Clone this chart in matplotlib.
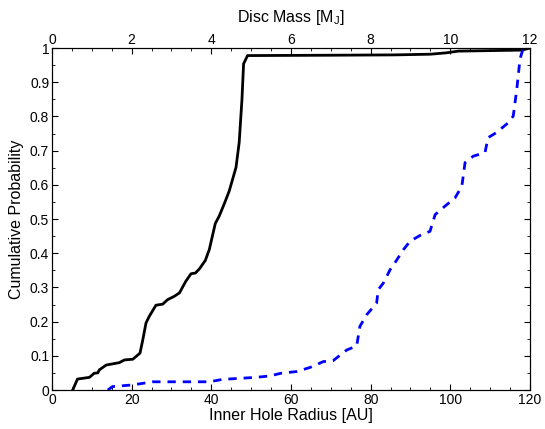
import numpy as np
import matplotlib
matplotlib.use('Agg')
import matplotlib.pyplot as plt
from matplotlib.ticker import MultipleLocator

matplotlib.rcParams.update({'font.family': ['Liberation Sans', 'DejaVu Sans'],
                            'font.size': 10})

# inner hole radius CDF (AU)
radius = [5.2, 6.4, 9.4, 10.6, 11.5, 11.9, 13.6, 16.9, 18.2, 20.3, 22.1, 22.8,
          23.6, 24.4, 26.1, 27.8, 29.0, 30.7, 32.0, 33.6, 34.9, 36.0, 37.0,
          38.5, 39.5, 41.0, 42.0, 43.3, 44.5, 46.2, 47.0, 47.7, 48.1, 49.1,
          70.0, 86.0, 95.0, 99.0, 102.0, 118.0, 120.0]
radius_cdf = [0.0, 0.032, 0.037, 0.049, 0.05, 0.059, 0.073, 0.08, 0.088, 0.09,
              0.108, 0.147, 0.196, 0.215, 0.248, 0.251, 0.264, 0.274, 0.284,
              0.318, 0.34, 0.342, 0.354, 0.379, 0.411, 0.487, 0.509, 0.546,
              0.582, 0.651, 0.724, 0.851, 0.954, 0.978,
              0.979, 0.98, 0.982, 0.986, 0.991, 0.994, 1.0]

# disc mass CDF (M_J)
mass = [1.40, 1.52, 2.03, 2.53, 3.03, 3.95, 4.28, 4.70, 5.12, 5.46, 5.75,
        6.14, 6.48, 6.81, 7.06, 7.40, 7.65, 7.73, 7.90, 8.15, 8.19, 8.32,
        8.49, 8.61, 8.82, 8.99, 9.24, 9.49, 9.62, 9.87, 10.12, 10.29, 10.37,
        10.58, 10.87, 10.95, 11.16, 11.46, 11.58, 11.67, 11.75, 11.82]
mass_cdf = [0.0, 0.01, 0.015, 0.024, 0.024, 0.024, 0.031, 0.034, 0.037, 0.041,
            0.049, 0.054, 0.066, 0.083, 0.086, 0.117, 0.129, 0.186, 0.22,
            0.254, 0.293, 0.313, 0.352, 0.372, 0.41, 0.435, 0.452, 0.464,
            0.513, 0.538, 0.562, 0.596, 0.665, 0.684, 0.694, 0.738, 0.753,
            0.782, 0.801, 0.88, 0.968, 0.995]

fig = plt.figure(figsize=(5.45, 4.29), dpi=100)
ax = fig.add_axes([0.0954, 0.0909, 0.877, 0.7971])
ax.plot(radius, radius_cdf, color='black', lw=2)
ax.set_xlim(0, 120)
ax.set_ylim(0, 1)
ax.set_xlabel('Inner Hole Radius [AU]', fontsize=11.5, labelpad=1)
ax.set_ylabel('Cumulative Probability', fontsize=11.5, labelpad=4)
ax.xaxis.set_major_locator(MultipleLocator(20))
ax.xaxis.set_minor_locator(MultipleLocator(5))
ax.yaxis.set_minor_locator(MultipleLocator(0.05))
ax.set_yticks(np.arange(0, 1.01, 0.1))
ax.set_yticklabels(['0', '0.1', '0.2', '0.3', '0.4', '0.5', '0.6', '0.7',
                    '0.8', '0.9', '1'])
ax.tick_params(which='both', direction='in', right=True, pad=2)
ax.tick_params(which='major', length=4)
ax.tick_params(which='minor', length=2)

ax2 = ax.twiny()
ax2.plot(mass, mass_cdf, color='blue', lw=2, ls=(0, (3, 2.5)))
ax2.set_xlim(0, 12)
ax2.set_xlabel('Disc Mass [M$_\\mathregular{J}$]', fontsize=11.5, labelpad=8)
ax2.xaxis.set_major_locator(MultipleLocator(2))
ax2.xaxis.set_minor_locator(MultipleLocator(0.5))
ax2.tick_params(which='both', direction='in', pad=1)
ax2.tick_params(which='major', length=4)
ax2.tick_params(which='minor', length=2)

plt.savefig('out.png', dpi=100)
